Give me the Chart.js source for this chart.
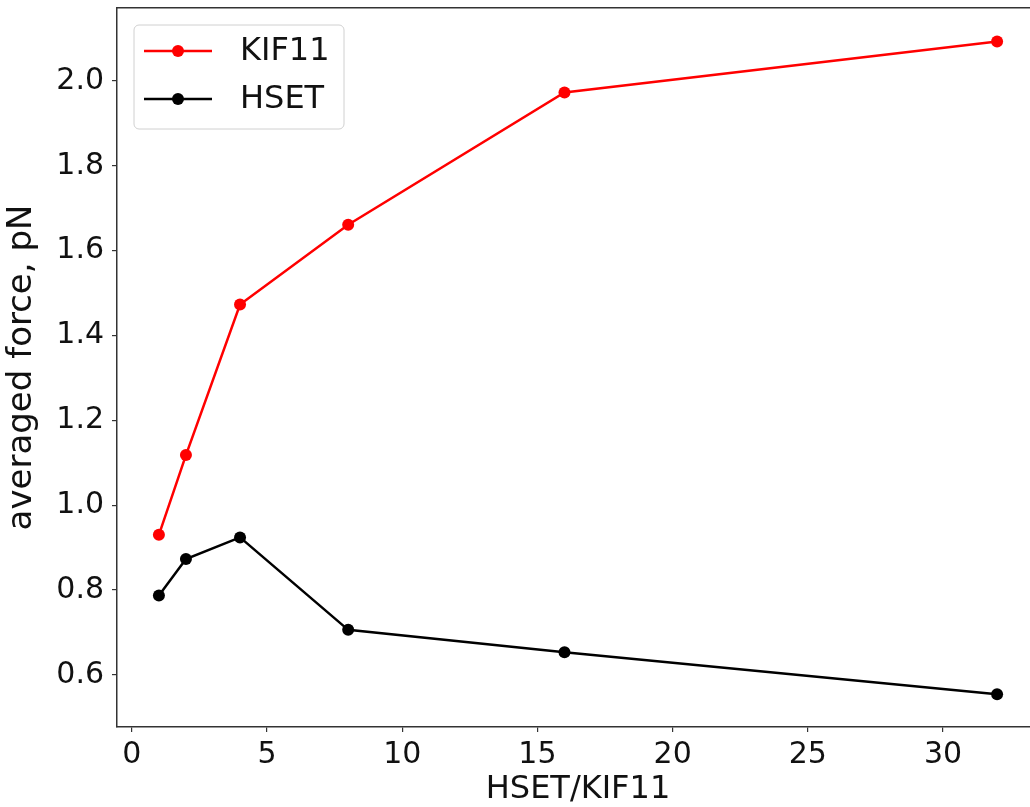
<!DOCTYPE html>
<html>
<head>
<meta charset="utf-8">
<script src="https://cdn.jsdelivr.net/npm/chart.js@4/dist/chart.umd.min.js"></script>
<style>
  html, body { margin: 0; padding: 0; background: #fff; overflow: hidden; }
  #wrap { position: absolute; left: 0; top: 0; width: 1045px; height: 807px; }
</style>
</head>
<body>
<div id="wrap"><canvas id="forcechart"></canvas></div>
<script>
// HSET/KIF11 ratio and averaged force (pN)
const ratios = [1, 2, 4, 8, 16, 32];
const kif11 = [0.930, 1.118, 1.473, 1.661, 1.973, 2.093];
const hset = [0.787, 0.873, 0.924, 0.706, 0.653, 0.554];
const xTicks = [0, 5, 10, 15, 20, 25, 30];
const yTicks = [0.6, 0.8, 1.0, 1.2, 1.4, 1.6, 1.8, 2.0];

const FONT = 'DejaVu Sans';

const toPoints = vals => vals.map((v, i) => ({ x: ratios[i], y: v }));

// no edge padding from tick labels, so the axes box sits where we want it
const noPad = s => { s.paddingTop = 0; s.paddingBottom = 0; s.paddingLeft = 0; s.paddingRight = 0; };

// matplotlib style legend box, top-left inside the axes
const boxLegend = {
    id: 'boxLegend',
    afterDraw(chart) {
        const ctx = chart.ctx;
        const a = chart.chartArea;
        const x0 = a.left + 17, y0 = a.top + 17;
        const w = 210, h = 104;
        ctx.save();
        ctx.beginPath();
        ctx.roundRect(x0, y0, w, h, 5);
        ctx.fillStyle = 'rgba(255,255,255,0.8)';
        ctx.fill();
        ctx.strokeStyle = '#d0d0d0';
        ctx.lineWidth = 1;
        ctx.stroke();
        chart.data.datasets.forEach((ds, i) => {
            const cy = y0 + 26 + i * 48;
            ctx.strokeStyle = ds.borderColor;
            ctx.lineWidth = 2.5;
            ctx.beginPath();
            ctx.moveTo(x0 + 10, cy);
            ctx.lineTo(x0 + 78, cy);
            ctx.stroke();
            ctx.fillStyle = ds.pointBackgroundColor;
            ctx.beginPath();
            ctx.arc(x0 + 44, cy, 6, 0, Math.PI * 2);
            ctx.fill();
            ctx.fillStyle = '#111';
            ctx.font = '32px "' + FONT + '"';
            ctx.textBaseline = 'middle';
            ctx.textAlign = 'left';
            ctx.fillText(ds.label, x0 + 106, cy + 1);
        });
        ctx.restore();
    }
};

const chart = new Chart(document.getElementById('forcechart'), {
    type: 'line',
    data: {
        datasets: [{
            label: 'KIF11',
            data: toPoints(kif11),
            borderColor: '#ff0000',
            backgroundColor: '#ff0000',
            pointBackgroundColor: '#ff0000',
            pointBorderWidth: 0,
            pointRadius: 6,
            borderWidth: 2.5
        }, {
            label: 'HSET',
            data: toPoints(hset),
            borderColor: '#000000',
            backgroundColor: '#000000',
            pointBackgroundColor: '#000000',
            pointBorderWidth: 0,
            pointRadius: 6,
            borderWidth: 2.5
        }]
    },
    options: {
        responsive: true,
        maintainAspectRatio: false,
        animation: false,
        layout: { padding: { top: 8, right: 6, left: 0, bottom: 0 } },
        plugins: {
            legend: { display: false },
            tooltip: { enabled: false }
        },
        scales: {
            x: {
                type: 'linear',
                min: -0.55,
                max: 33.55,
                afterBuildTicks: s => { s.ticks = xTicks.map(v => ({ value: v })); },
                afterFit: s => { noPad(s); s.height = 80; },
                grid: { drawOnChartArea: false, drawTicks: true, tickLength: 5, color: '#333', lineWidth: 1.2 },
                border: { display: true, color: '#333', width: 1.5 },
                ticks: { color: '#111', font: { family: FONT, size: 30 }, padding: 5, maxRotation: 0 },
                title: { display: true, text: 'HSET/KIF11', color: '#111', font: { family: FONT, size: 32 }, padding: { top: 4, bottom: -2 } }
            },
            xTop: {
                type: 'linear',
                position: 'top',
                min: -0.55,
                max: 33.55,
                afterFit: s => { noPad(s); s.height = 0; },
                grid: { display: false },
                ticks: { display: false },
                border: { display: true, color: '#333', width: 1.5 }
            },
            y: {
                type: 'linear',
                min: 0.477,
                max: 2.172,
                afterBuildTicks: s => { s.ticks = yTicks.map(v => ({ value: v })); },
                afterFit: s => { noPad(s); s.width = 117; },
                grid: { drawOnChartArea: false, drawTicks: true, tickLength: 5, color: '#333', lineWidth: 1.2 },
                border: { display: true, color: '#333', width: 1.5 },
                ticks: { color: '#111', font: { family: FONT, size: 30 }, padding: 8, callback: v => v.toFixed(1) },
                title: { display: true, text: 'averaged force, pN', color: '#111', font: { family: FONT, size: 34 }, padding: { top: 2, bottom: 4 } }
            }
        }
    },
    plugins: [boxLegend]
});
</script>
</body>
</html>
